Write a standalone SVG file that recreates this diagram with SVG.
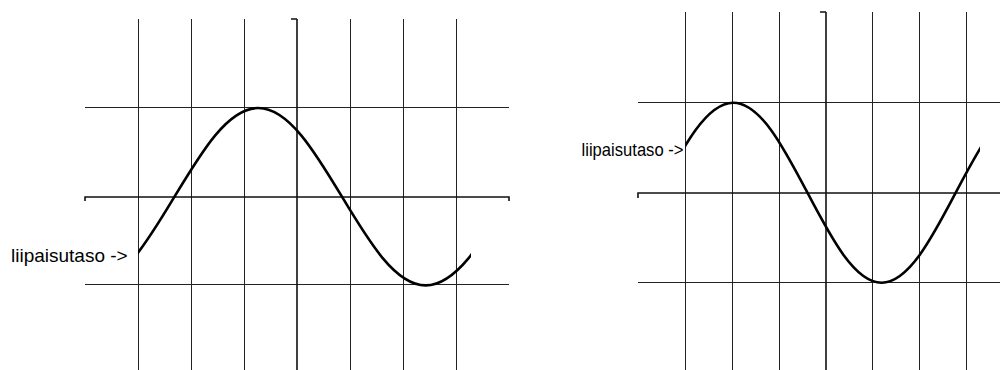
<svg xmlns="http://www.w3.org/2000/svg" width="1000" height="370" viewBox="0 0 1000 370">
<style>
.grid{stroke:#222;stroke-width:1;fill:none}
.axis{stroke:#111;stroke-width:1.6;fill:none}
.wave{stroke:#000;stroke-width:2.6;fill:none}
.lbl{font-family:"Liberation Sans",Arial,sans-serif;font-size:19px;fill:#000}
</style>
<defs>
<clipPath id="clipL"><rect x="138" y="0" width="333" height="370"/></clipPath>
<clipPath id="clipR"><rect x="685.5" y="0" width="294.5" height="370"/></clipPath>
</defs>
<g id="left-plot">
<g id="left-grid">
<path class="grid" d="M138.5,19V370M191.5,19V370M244.5,19V370M350.5,19V370M403.5,19V370M456.5,19V370"/>
<path class="grid" d="M85,107.5H509M85,284.5H509"/>
<path class="axis" d="M297,19V370M291,19H297"/>
<path class="axis" d="M85,201V197H509V201"/>
</g>
<g id="left-wave" clip-path="url(#clipL)">
<path class="wave" d="M90.78,285.4 C121.08,285.4 147.19,242.14 174.5,196.7 C201.81,151.26 227.92,108 258.22,108 C288.52,108 314.64,151.26 341.95,196.7 C369.25,242.14 395.37,285.4 425.67,285.4 C455.97,285.4 482.09,242.14 509.4,196.7"/>
</g>
<text id="left-label" class="lbl" x="11" y="262">liipaisutaso -&gt;</text>
</g>
<g id="right-plot">
<g id="right-grid">
<path class="grid" d="M685.5,12V370M732.5,12V370M779.5,12V370M872.5,12V370M919.5,12V370M966.5,12V370"/>
<path class="grid" d="M638,102.5H1000M638,282.5H1000"/>
<path class="axis" d="M826,12V370M820,12H826"/>
<path class="axis" d="M638,198V193H1000"/>
</g>
<g id="right-wave" clip-path="url(#clipR)">
<path class="wave" d="M659.16,192.7 C683.34,146.59 706.47,102.7 733.3,102.7 C760.13,102.7 783.26,146.59 807.44,192.7 C831.62,238.81 854.75,282.7 881.59,282.7 C908.42,282.7 931.55,238.81 955.73,192.7 C979.91,146.59 1003.04,102.7 1029.87,102.7"/>
</g>
<text id="right-label" class="lbl" x="581.5" y="156" textLength="102" lengthAdjust="spacingAndGlyphs">liipaisutaso -&gt;</text>
</g>
</svg>
